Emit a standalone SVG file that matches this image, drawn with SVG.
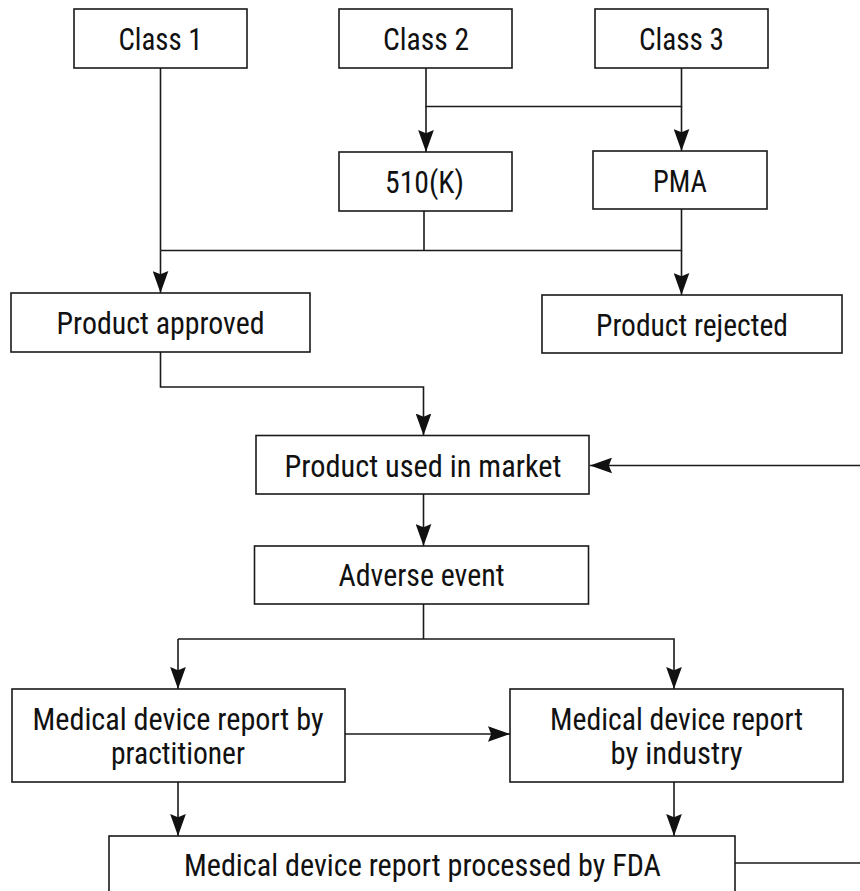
<svg xmlns="http://www.w3.org/2000/svg" width="860" height="891" viewBox="0 0 860 891">
<defs>
<style>
.box{fill:#fff;stroke:#1a1a1a;stroke-width:1.6}
.t{font-family:"Liberation Sans Narrow","Roboto Condensed","DejaVu Sans Condensed","Liberation Sans",Arial,sans-serif;font-size:31px;fill:#111;text-anchor:middle}
.c{fill:none;stroke:#1a1a1a;stroke-width:1.6}
.a{marker-end:url(#ah)}
</style>
<marker id="ah" markerUnits="userSpaceOnUse" markerWidth="22" markerHeight="16" viewBox="0 0 21 15" refX="21" refY="7.5" orient="auto">
<path d="M0,0 L21,7.5 L0,15 L3,7.5 z" fill="#111"/>
</marker>
</defs>
<rect width="860" height="891" fill="#fff"/>
<g id="connectors">
<path class="c" d="M160.5,68 V250.5"/>
<path class="c a" d="M160.5,250.5 V293"/>
<path class="c" d="M426,68 V106.5 H681.5 V68"/>
<path class="c a" d="M426,106.5 V152"/>
<path class="c a" d="M681.5,106.5 V151"/>
<path class="c" d="M424,211 V250.5"/>
<path class="c" d="M160.5,250.5 H681.5 V209"/>
<path class="c a" d="M681.5,250.5 V295"/>
<path class="c a" d="M160.5,352 V387 H423.5 V435.5"/>
<path class="c a" d="M860,465.5 H590"/>
<path class="c a" d="M423.5,494 V546"/>
<path class="c" d="M423.5,604 V639"/>
<path class="c a" d="M178,639 H674 V689"/>
<path class="c a" d="M178,639 V689"/>
<path class="c a" d="M345,734 H510"/>
<path class="c a" d="M178,782 V836"/>
<path class="c a" d="M674,782 V836"/>
<path class="c" d="M735,863 H860"/>
</g>
<g id="class1"><rect class="box" x="74" y="9" width="173" height="59"/><text class="t" x="160.5" y="49.5" textLength="84" lengthAdjust="spacingAndGlyphs">Class 1</text></g>
<g id="class2"><rect class="box" x="339" y="9" width="173" height="59"/><text class="t" x="426" y="49.5" textLength="86" lengthAdjust="spacingAndGlyphs">Class 2</text></g>
<g id="class3"><rect class="box" x="595" y="9" width="173" height="59"/><text class="t" x="681.5" y="49.5" textLength="85" lengthAdjust="spacingAndGlyphs">Class 3</text></g>
<g id="k510"><rect class="box" x="339" y="152" width="173" height="59"/><text class="t" x="424.5" y="192.5" textLength="79" lengthAdjust="spacingAndGlyphs">510(K)</text></g>
<g id="pma"><rect class="box" x="593" y="151" width="174" height="58"/><text class="t" x="680" y="191.5" textLength="54" lengthAdjust="spacingAndGlyphs">PMA</text></g>
<g id="approved"><rect class="box" x="11" y="293" width="299" height="59"/><text class="t" x="160.5" y="333.5" textLength="208" lengthAdjust="spacingAndGlyphs">Product approved</text></g>
<g id="rejected"><rect class="box" x="542" y="295" width="300" height="58"/><text class="t" x="692" y="335.5" textLength="192" lengthAdjust="spacingAndGlyphs">Product rejected</text></g>
<g id="market"><rect class="box" x="256" y="435.5" width="333" height="58.5"/><text class="t" x="423" y="476.5" textLength="277" lengthAdjust="spacingAndGlyphs">Product used in market</text></g>
<g id="adverse"><rect class="box" x="254.5" y="546" width="334" height="58"/><text class="t" x="421.5" y="585.5" textLength="166" lengthAdjust="spacingAndGlyphs">Adverse event</text></g>
<g id="practitioner"><rect class="box" x="12" y="689" width="333" height="93"/><text class="t" x="178" y="729.5" textLength="291" lengthAdjust="spacingAndGlyphs">Medical device report by</text><text class="t" x="178" y="763.5" textLength="134" lengthAdjust="spacingAndGlyphs">practitioner</text></g>
<g id="industry"><rect class="box" x="510" y="689" width="333" height="93"/><text class="t" x="676.5" y="729.5" textLength="253" lengthAdjust="spacingAndGlyphs">Medical device report</text><text class="t" x="676.5" y="763.5" textLength="132" lengthAdjust="spacingAndGlyphs">by industry</text></g>
<g id="fda"><rect class="box" x="109" y="836" width="626" height="80"/><text class="t" x="422.5" y="875.5" textLength="477" lengthAdjust="spacingAndGlyphs">Medical device report processed by FDA</text></g>
</svg>
